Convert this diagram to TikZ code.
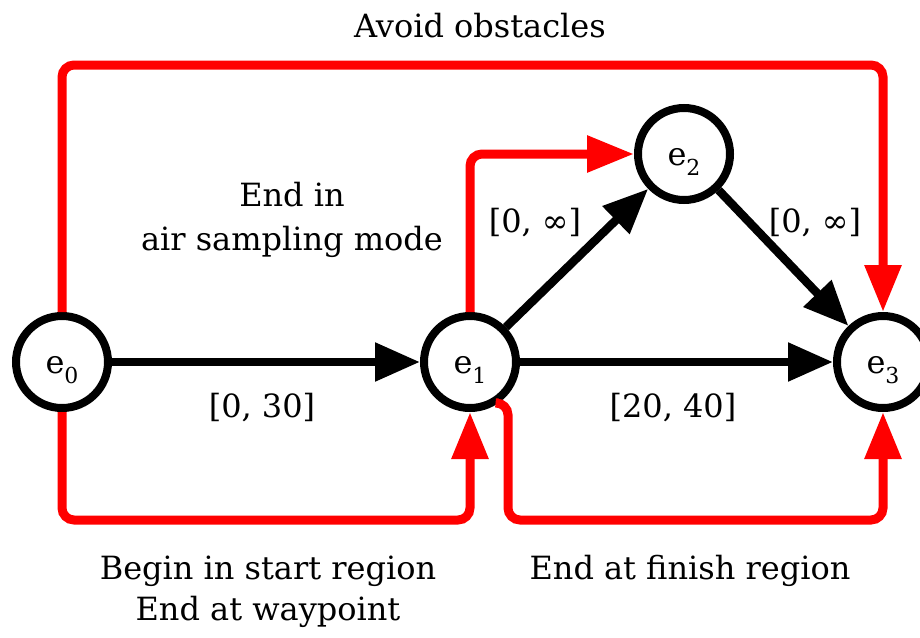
\documentclass[tikz,border=0pt]{standalone}
\usepackage{fontspec}
\setmainfont{DejaVu Serif}
\usetikzlibrary{arrows.meta}
\definecolor{specred}{RGB}{255,0,0}
% subscript index set a little lower than the usual text subscript
\newcommand\stateidx[1]{\raisebox{-10pt}{\fontsize{22}{22}\selectfont #1}}
\begin{document}
\begin{tikzpicture}[x=1pt,y=-1pt,
  every node/.style={font=\fontsize{32}{42}\selectfont},
  state/.style={circle,draw=black,line width=8pt,minimum size=92pt,inner sep=0pt,
    fill=white,text height=24pt,text depth=2pt},
  trans/.style={line width=8.5pt,-{Triangle[length=45pt,width=37pt]}},
  spec/.style={draw=specred,line width=9pt,rounded corners=12pt,
    -{Triangle[length=47pt,width=35pt]}},
  lbl/.style={inner sep=0pt}]
\useasboundingbox (0,0) rectangle (920,637);

% automaton states
\node[state] (e0) at (62,362)  {e\stateidx{0}};
\node[state] (e1) at (470,362) {e\stateidx{1}};
\node[state] (e2) at (684,154) {e\stateidx{2}};
\node[state] (e3) at (883,362) {e\stateidx{3}};

% transitions with their time bounds
\draw[trans] (e0) -- (e1);
\draw[trans] (e1) -- (e2);
\draw[trans] (e2) -- (e3);
\draw[trans] (e1) -- (e3);

\node[lbl] (b01) at (262,408) {[0, 30]};
\node[lbl] (b12) at (535,223) {[0, ∞]};
\node[lbl] (b23) at (815,223) {[0, ∞]};
\node[lbl] (b13) at (673,408) {[20, 40]};

% specification paths
\coordinate (topy) at (0,65);
\coordinate (boty) at (0,520);
\coordinate (turn) at (508,520);
\draw[spec] (e0.north) |- (e3.north |- topy) -- (e3.north);
\draw[spec] (e1.north) |- (e2.west);
\draw[spec] (e0.south) |- (e1.south |- boty) -- (e1.south);
\draw[spec] (e1.-55) -| (turn) -- (e3.south |- boty) -- (e3.south);

% specification labels
\node[lbl,anchor=base] (avoid) at (480,37) {Avoid obstacles};
\node[lbl,anchor=base] (endin) at (292,206) {End in};
\node[lbl,anchor=base] (airmode) at (292,250) {air sampling mode};
\node[lbl,anchor=base] (begin) at (268,579) {Begin in start region};
\node[lbl,anchor=base] (waypt) at (268,620) {End at waypoint};
\node[lbl,anchor=base] (finish) at (690,579) {End at finish region};
\end{tikzpicture}
\end{document}
